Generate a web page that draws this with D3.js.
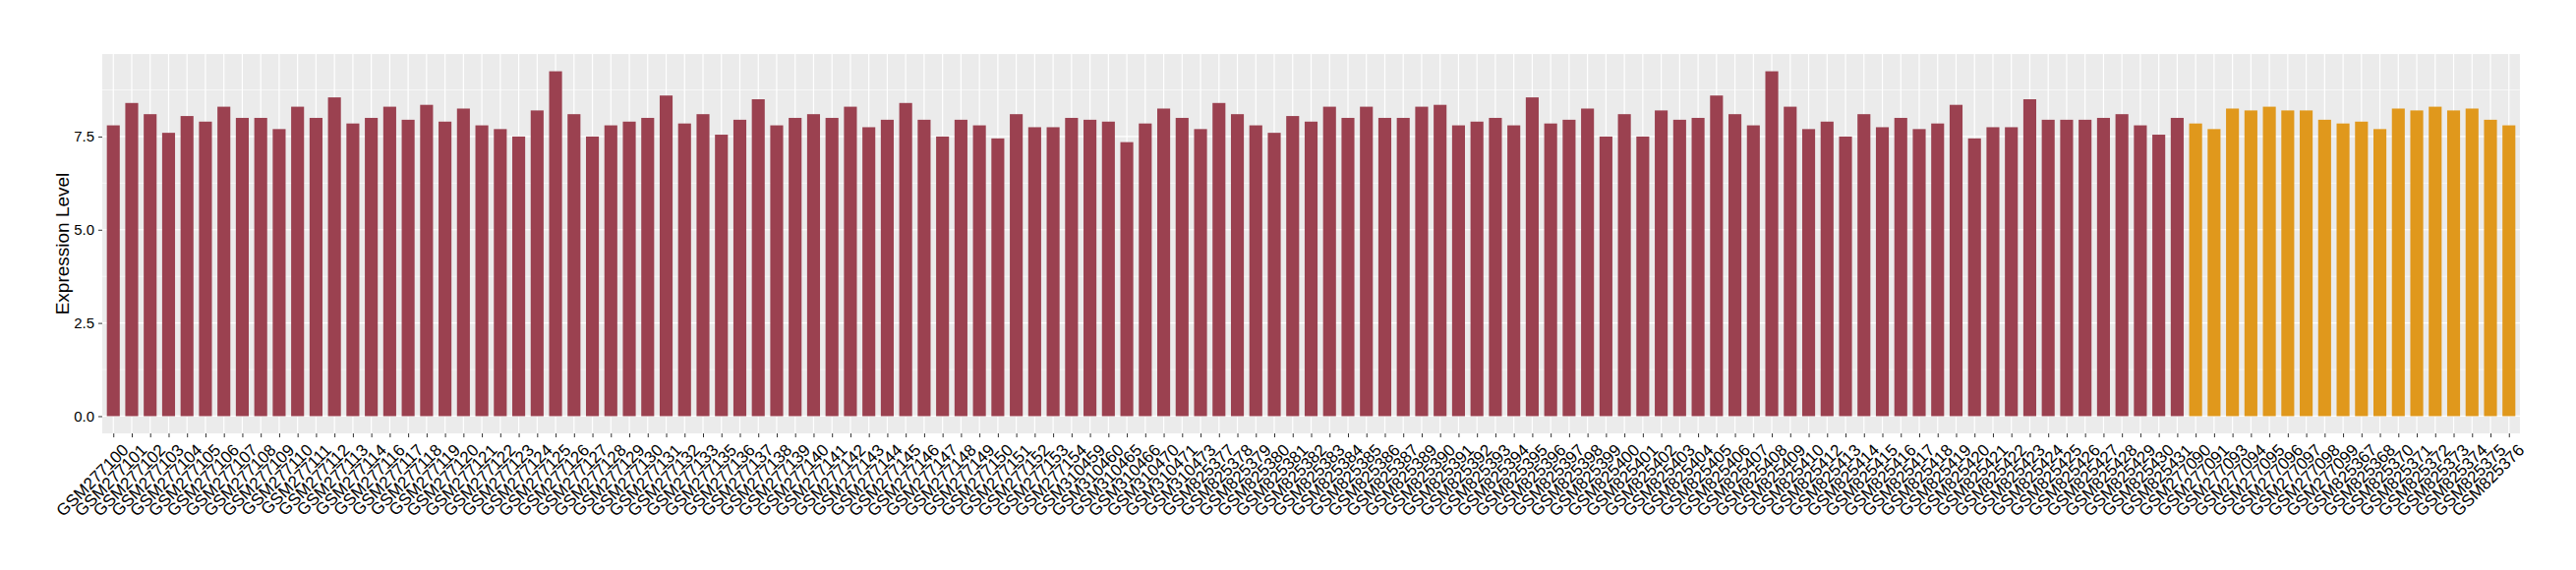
<!DOCTYPE html>
<html>
<head>
<meta charset="utf-8">
<script src="https://cdn.jsdelivr.net/npm/d3@7"></script>
<style>
  body { margin: 0; background: #fff; }
  text { font-family: "Liberation Sans", Arial, sans-serif; }
</style>
</head>
<body>
<svg width="2620" height="580"></svg>
<script>
'use strict'

const redSamples = [
  'GSM277100', 'GSM277101', 'GSM277102', 'GSM277103', 'GSM277104', 'GSM277105', 'GSM277106', 'GSM277107',
  'GSM277108', 'GSM277109', 'GSM277110', 'GSM277111', 'GSM277112', 'GSM277113', 'GSM277114', 'GSM277116',
  'GSM277117', 'GSM277118', 'GSM277119', 'GSM277120', 'GSM277121', 'GSM277122', 'GSM277123', 'GSM277124',
  'GSM277125', 'GSM277126', 'GSM277127', 'GSM277128', 'GSM277129', 'GSM277130', 'GSM277131', 'GSM277132',
  'GSM277133', 'GSM277135', 'GSM277136', 'GSM277137', 'GSM277138', 'GSM277139', 'GSM277140', 'GSM277141',
  'GSM277142', 'GSM277143', 'GSM277144', 'GSM277145', 'GSM277146', 'GSM277147', 'GSM277148', 'GSM277149',
  'GSM277150', 'GSM277151', 'GSM277152', 'GSM277153', 'GSM277154', 'GSM310459', 'GSM310460', 'GSM310465',
  'GSM310466', 'GSM310470', 'GSM310471', 'GSM310473', 'GSM825377', 'GSM825378', 'GSM825379', 'GSM825380',
  'GSM825381', 'GSM825382', 'GSM825383', 'GSM825384', 'GSM825385', 'GSM825386', 'GSM825387', 'GSM825389',
  'GSM825390', 'GSM825391', 'GSM825392', 'GSM825393', 'GSM825394', 'GSM825395', 'GSM825396', 'GSM825397',
  'GSM825398', 'GSM825399', 'GSM825400', 'GSM825401', 'GSM825402', 'GSM825403', 'GSM825404', 'GSM825405',
  'GSM825406', 'GSM825407', 'GSM825408', 'GSM825409', 'GSM825410', 'GSM825412', 'GSM825413', 'GSM825414',
  'GSM825415', 'GSM825416', 'GSM825417', 'GSM825418', 'GSM825419', 'GSM825420', 'GSM825421', 'GSM825422',
  'GSM825423', 'GSM825424', 'GSM825425', 'GSM825426', 'GSM825427', 'GSM825428', 'GSM825429', 'GSM825430',
  'GSM825431'
]
const redValues = [
  7.8, 8.4, 8.1, 7.6, 8.05, 7.9, 8.3, 8.0,
  8.0, 7.7, 8.3, 8.0, 8.55, 7.85, 8.0, 8.3,
  7.95, 8.35, 7.9, 8.25, 7.8, 7.7, 7.5, 8.2,
  9.25, 8.1, 7.5, 7.8, 7.9, 8.0, 8.6, 7.85,
  8.1, 7.55, 7.95, 8.5, 7.8, 8.0, 8.1, 8.0,
  8.3, 7.75, 7.95, 8.4, 7.95, 7.5, 7.95, 7.8,
  7.45, 8.1, 7.75, 7.75, 8.0, 7.95, 7.9, 7.35,
  7.85, 8.25, 8.0, 7.7, 8.4, 8.1, 7.8, 7.6,
  8.05, 7.9, 8.3, 8.0, 8.3, 8.0, 8.0, 8.3,
  8.35, 7.8, 7.9, 8.0, 7.8, 8.55, 7.85, 7.95,
  8.25, 7.5, 8.1, 7.5, 8.2, 7.95, 8.0, 8.6,
  8.1, 7.8, 9.25, 8.3, 7.7, 7.9, 7.5, 8.1,
  7.75, 8.0, 7.7, 7.85, 8.35, 7.45, 7.75, 7.75,
  8.5, 7.95, 7.95, 7.95, 8.0, 8.1, 7.8, 7.55,
  8.0
]
const orangeSamples = [
  'GSM277090', 'GSM277091', 'GSM277093', 'GSM277094', 'GSM277095', 'GSM277096', 'GSM277097', 'GSM277098',
  'GSM277099', 'GSM825367', 'GSM825368', 'GSM825370', 'GSM825371', 'GSM825372', 'GSM825373', 'GSM825374',
  'GSM825375', 'GSM825376'
]
const orangeValues = [
  7.85, 7.7, 8.25, 8.2, 8.3, 8.2, 8.2, 7.95,
  7.85, 7.9, 7.7, 8.25, 8.2, 8.3, 8.2, 8.25,
  7.95, 7.8
]
const yTicks = [0, 2.5, 5, 7.5]

const bars = redSamples.map((s, i) => ({ sample: s, value: redValues[i], color: '#9b4150' }))
  .concat(orangeSamples.map((s, i) => ({ sample: s, value: orangeValues[i], color: '#e0981c' })))

const panel = { left: 104, right: 2563, top: 55, bottom: 441 }
const svg = d3.select('svg')

const yMax = d3.max(bars, (d) => d.value)
const y = d3.scaleLinear()
  .domain([-0.05 * yMax, 1.05 * yMax])
  .range([panel.bottom, panel.top])

const x = d3.scalePoint()
  .domain(bars.map((d) => d.sample))
  .range([panel.left, panel.right])
  .padding(0.6)
const barW = x.step() * 0.7

// panel background
svg.append('rect')
  .attr('x', panel.left).attr('y', panel.top)
  .attr('width', panel.right - panel.left).attr('height', panel.bottom - panel.top)
  .style('fill', '#ebebeb')

// minor y grid
svg.selectAll('line.minor').data([1.25, 3.75, 6.25, 8.75])
  .enter().append('line').classed('minor', true)
  .attr('x1', panel.left).attr('x2', panel.right)
  .attr('y1', (d) => y(d)).attr('y2', (d) => y(d))
  .style('stroke', '#fff').style('stroke-width', 0.6)

// major grid
svg.selectAll('line.hgrid').data(yTicks)
  .enter().append('line').classed('hgrid', true)
  .attr('x1', panel.left).attr('x2', panel.right)
  .attr('y1', (d) => y(d)).attr('y2', (d) => y(d))
  .style('stroke', '#fff').style('stroke-width', 1.2)

svg.selectAll('line.vgrid').data(bars)
  .enter().append('line').classed('vgrid', true)
  .attr('x1', (d) => x(d.sample)).attr('x2', (d) => x(d.sample))
  .attr('y1', panel.top).attr('y2', panel.bottom)
  .style('stroke', '#fff').style('stroke-width', 1.2)

// bars
svg.selectAll('rect.bar').data(bars)
  .enter().append('rect').classed('bar', true)
  .attr('x', (d) => x(d.sample) - barW / 2)
  .attr('width', barW)
  .attr('y', (d) => y(d.value))
  .attr('height', (d) => y(0) - y(d.value))
  .style('fill', (d) => d.color)

// y axis
const yAxis = svg.append('g')
  .attr('transform', `translate(${panel.left},0)`)
  .call(d3.axisLeft(y).tickValues(yTicks).tickFormat(d3.format('.1f')).tickSize(4).tickPadding(4))
yAxis.select('.domain').remove()
yAxis.selectAll('line').style('stroke', '#333')
yAxis.selectAll('text').style('font-size', '15px').style('fill', '#000')

// x axis
const xAxis = svg.append('g')
  .attr('transform', `translate(0,${panel.bottom})`)
  .call(d3.axisBottom(x).tickSize(4).tickPadding(4))
xAxis.select('.domain').remove()
xAxis.selectAll('line').style('stroke', '#333')
xAxis.selectAll('text')
  .style('font-size', '17px').style('fill', '#000')
  .attr('text-anchor', 'end')
  .attr('dy', '0.7em')
  .attr('transform', 'translate(2,4) rotate(-45)')

svg.append('text')
  .attr('transform', `translate(70,${(panel.top + panel.bottom) / 2}) rotate(-90)`)
  .attr('text-anchor', 'middle')
  .style('font-size', '19px')
  .style('fill', '#000')
  .text('Expression Level')
</script>
</body>
</html>
